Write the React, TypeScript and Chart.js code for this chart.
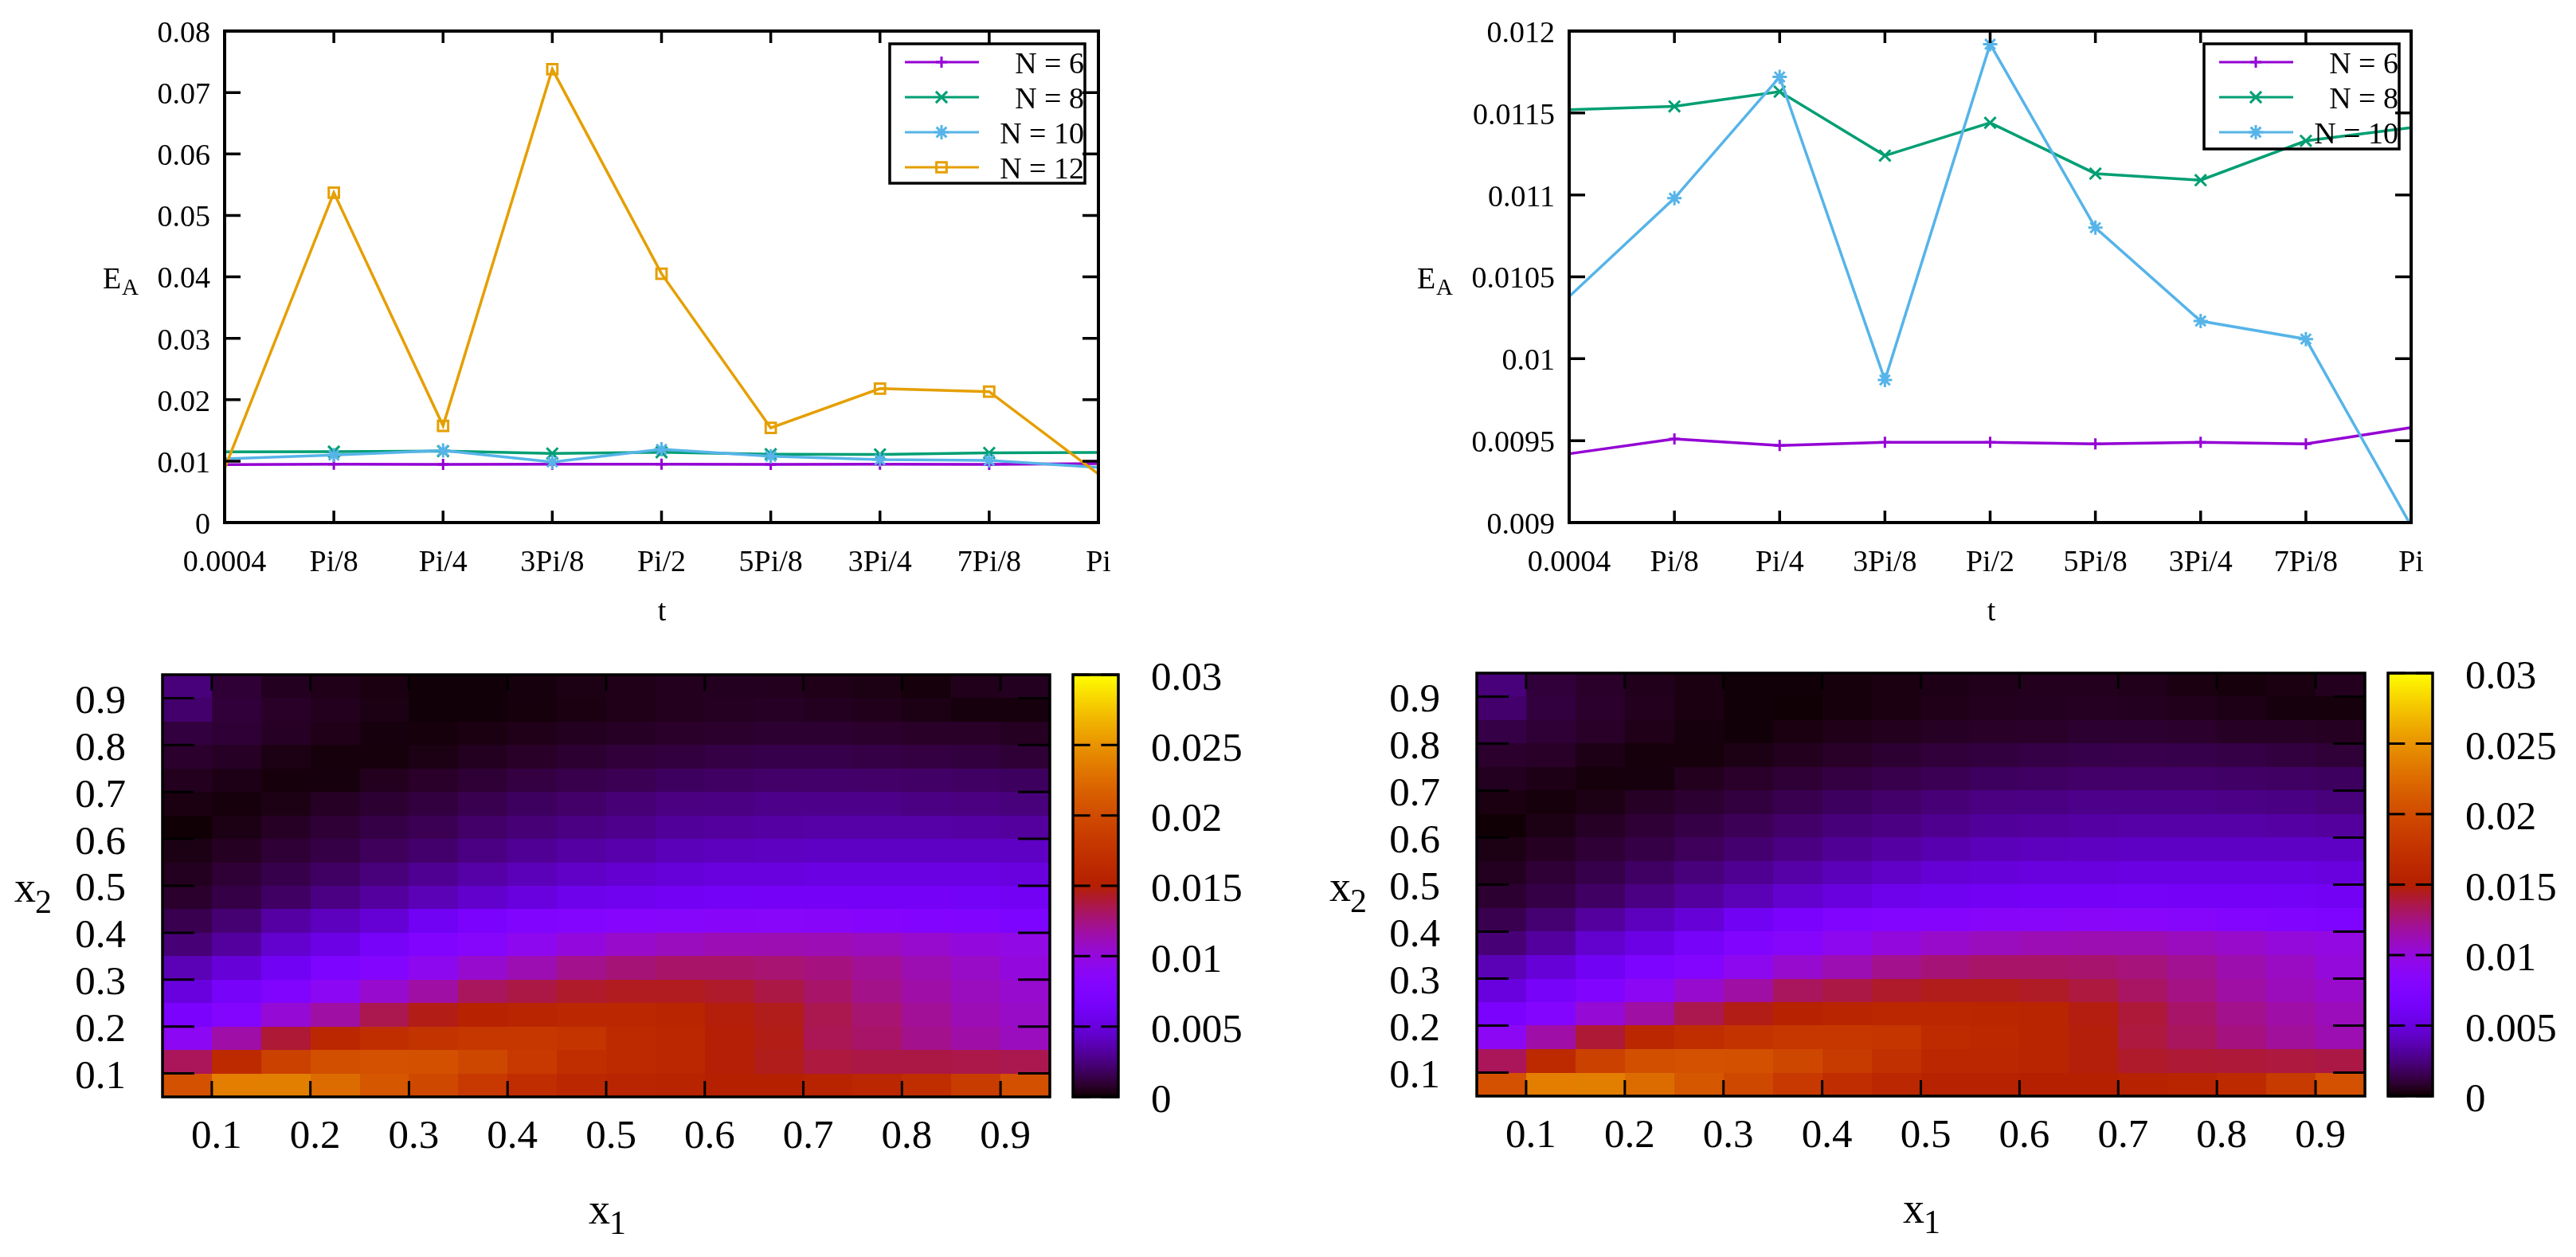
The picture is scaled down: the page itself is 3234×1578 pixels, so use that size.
import React, { useEffect, useRef } from "react";
import { Chart, registerables } from "chart.js";
import { drawPoint } from "chart.js/helpers";

Chart.register(...registerables);

const FONT = "Liberation Serif";

const tLabels = ["0.0004", "Pi/8", "Pi/4", "3Pi/8", "Pi/2", "5Pi/8", "3Pi/4", "7Pi/8", "Pi"];

const leftYTicks = [0, 0.01, 0.02, 0.03, 0.04, 0.05, 0.06, 0.07, 0.08];
const rightYTicks = [0.009, 0.0095, 0.01, 0.0105, 0.011, 0.0115, 0.012];

const n6 = [0.00942, 0.00951, 0.00947, 0.00949, 0.00949, 0.00948, 0.00949, 0.00948, 0.00958];
const n8 = [0.01152, 0.01154, 0.01163, 0.01124, 0.01144, 0.01113, 0.01109, 0.01133, 0.01141];
const n10 = [0.01038, 0.01098, 0.01172, 0.00987, 0.01192, 0.0108, 0.01023, 0.01012, 0.00898];
const n12 = [0.0088, 0.0537, 0.01575, 0.0738, 0.0405, 0.0154, 0.0218, 0.0213, 0.0079];

const heatXTicks = [0.1, 0.2, 0.3, 0.4, 0.5, 0.6, 0.7, 0.8, 0.9];
const heatYTicks = [0.1, 0.2, 0.3, 0.4, 0.5, 0.6, 0.7, 0.8, 0.9];
const barTicks = [0, 0.005, 0.01, 0.015, 0.02, 0.025, 0.03];

const HEAT_UNIT = 0.001;
const CELL = 0.05;
const GRID_START = 0.05;

// rows run from x2 = 0.90..0.95 (top) to x2 = 0.05..0.10 (bottom), values in HEAT_UNIT
const heatLeft = [
  [2.4, 1.0, 0.6, 0.45, 0.3, 0.15, 0.15, 0.25, 0.35, 0.45, 0.55, 0.6, 0.55, 0.45, 0.35, 0.2, 0.5, 0.6],
  [2.1, 1.1, 0.75, 0.55, 0.35, 0.15, 0.15, 0.2, 0.3, 0.45, 0.55, 0.65, 0.7, 0.6, 0.5, 0.35, 0.25, 0.25],
  [1.2, 1.0, 0.7, 0.45, 0.25, 0.2, 0.3, 0.45, 0.6, 0.7, 0.8, 0.85, 0.95, 0.95, 0.85, 0.75, 0.75, 0.65],
  [0.85, 0.7, 0.35, 0.2, 0.2, 0.35, 0.6, 0.75, 0.95, 1.1, 1.2, 1.3, 1.4, 1.4, 1.3, 1.25, 1.2, 1.0],
  [0.55, 0.4, 0.2, 0.25, 0.55, 0.8, 1.0, 1.25, 1.45, 1.6, 1.8, 1.9, 2.0, 2.05, 2.0, 1.95, 1.9, 1.8],
  [0.3, 0.2, 0.35, 0.7, 0.95, 1.2, 1.5, 1.8, 2.0, 2.3, 2.5, 2.6, 2.7, 2.7, 2.7, 2.6, 2.5, 2.4],
  [0.12, 0.35, 0.7, 1.0, 1.3, 1.6, 2.0, 2.3, 2.6, 2.8, 3.1, 3.2, 3.3, 3.4, 3.4, 3.4, 3.3, 3.2],
  [0.35, 0.65, 1.0, 1.35, 1.75, 2.1, 2.6, 3.0, 3.3, 3.5, 3.9, 4.0, 4.1, 4.2, 4.2, 4.2, 4.2, 4.2],
  [0.6, 1.0, 1.4, 1.9, 2.4, 2.9, 3.4, 3.9, 4.3, 4.6, 4.9, 5.0, 5.1, 5.2, 5.2, 5.2, 5.2, 5.1],
  [0.85, 1.3, 1.9, 2.6, 3.2, 3.8, 4.4, 5.0, 5.6, 5.8, 6.1, 6.2, 6.3, 6.3, 6.3, 6.3, 6.2, 6.1],
  [1.5, 2.2, 3.3, 4.0, 4.7, 6.0, 7.0, 7.7, 8.0, 8.1, 8.3, 8.4, 8.5, 8.4, 8.2, 7.8, 7.5, 7.2],
  [2.3, 3.2, 4.5, 5.3, 6.5, 7.5, 8.3, 9.2, 10.0, 10.6, 11.0, 11.2, 11.3, 11.2, 11.0, 10.5, 10.0, 9.7],
  [3.8, 4.8, 6.0, 7.2, 8.0, 9.2, 10.5, 11.3, 12.2, 12.7, 13.0, 13.0, 12.8, 12.5, 12.0, 11.3, 10.7, 10.0],
  [5.0, 6.5, 7.7, 9.0, 10.5, 11.7, 13.2, 13.7, 14.2, 14.4, 14.4, 14.2, 13.7, 13.0, 12.3, 11.6, 11.0, 10.5],
  [7.0, 8.0, 10.3, 11.7, 13.5, 14.6, 15.5, 15.8, 16.0, 16.0, 15.8, 14.8, 14.5, 13.5, 12.8, 12.0, 11.2, 10.7],
  [9.0, 11.6, 14.0, 16.0, 17.0, 17.6, 18.0, 18.0, 17.7, 16.5, 16.0, 14.9, 14.6, 13.4, 13.0, 12.2, 11.6, 11.0],
  [13.3, 16.4, 19.0, 20.3, 20.5, 20.4, 19.6, 18.2, 17.0, 16.5, 16.0, 14.9, 14.5, 13.8, 13.7, 13.7, 13.6, 13.5],
  [20.5, 23.7, 23.8, 22.5, 21.0, 19.7, 18.2, 16.8, 16.2, 15.8, 15.6, 15.0, 15.0, 15.6, 16.0, 17.0, 18.5, 20.4],
];

const heatRight = [
  [2.4, 1.1, 0.8, 0.5, 0.3, 0.15, 0.15, 0.2, 0.3, 0.4, 0.5, 0.55, 0.55, 0.5, 0.3, 0.2, 0.3, 0.55],
  [2.1, 1.2, 0.85, 0.55, 0.3, 0.15, 0.12, 0.2, 0.3, 0.45, 0.55, 0.6, 0.65, 0.6, 0.5, 0.4, 0.25, 0.2],
  [1.3, 1.0, 0.75, 0.45, 0.25, 0.15, 0.3, 0.45, 0.55, 0.7, 0.75, 0.8, 0.9, 0.95, 0.85, 0.7, 0.7, 0.65],
  [0.85, 0.75, 0.4, 0.2, 0.2, 0.35, 0.55, 0.75, 0.95, 1.1, 1.2, 1.3, 1.4, 1.45, 1.4, 1.3, 1.2, 1.05],
  [0.6, 0.4, 0.2, 0.25, 0.55, 0.8, 1.0, 1.25, 1.45, 1.6, 1.8, 1.9, 2.0, 2.05, 2.05, 1.95, 1.9, 1.8],
  [0.3, 0.2, 0.35, 0.7, 0.95, 1.2, 1.5, 1.8, 2.05, 2.3, 2.5, 2.6, 2.7, 2.7, 2.7, 2.65, 2.55, 2.4],
  [0.12, 0.35, 0.7, 1.0, 1.3, 1.65, 2.0, 2.35, 2.6, 2.85, 3.1, 3.2, 3.3, 3.4, 3.4, 3.4, 3.3, 3.2],
  [0.35, 0.65, 1.0, 1.35, 1.75, 2.15, 2.6, 3.0, 3.3, 3.6, 3.9, 4.0, 4.1, 4.2, 4.2, 4.2, 4.2, 4.2],
  [0.6, 1.0, 1.4, 1.9, 2.4, 2.9, 3.4, 3.9, 4.3, 4.7, 4.9, 5.0, 5.1, 5.2, 5.2, 5.2, 5.2, 5.1],
  [0.9, 1.3, 1.9, 2.6, 3.2, 3.8, 4.5, 5.0, 5.6, 5.9, 6.1, 6.3, 6.3, 6.4, 6.3, 6.3, 6.2, 6.1],
  [1.5, 2.2, 3.2, 4.0, 4.8, 6.0, 7.0, 7.7, 8.0, 8.2, 8.4, 8.5, 8.6, 8.5, 8.3, 7.9, 7.6, 7.3],
  [2.3, 3.2, 4.5, 5.3, 6.5, 7.5, 8.3, 9.2, 10.0, 10.6, 11.0, 11.2, 11.3, 11.3, 11.0, 10.6, 10.1, 9.8],
  [3.8, 4.8, 6.0, 7.2, 8.0, 9.2, 10.5, 11.3, 12.2, 12.7, 13.0, 13.0, 12.9, 12.6, 12.1, 11.4, 10.8, 10.1],
  [5.0, 6.5, 7.7, 9.0, 10.5, 11.7, 13.2, 13.7, 14.2, 14.5, 14.5, 14.3, 13.8, 13.1, 12.4, 11.7, 11.1, 10.6],
  [7.0, 8.0, 10.3, 11.7, 13.5, 14.6, 15.5, 15.8, 16.0, 16.1, 15.9, 15.7, 14.7, 13.9, 13.0, 12.2, 11.6, 11.1],
  [9.0, 11.6, 14.0, 16.0, 17.0, 17.6, 18.0, 18.0, 17.8, 16.6, 16.3, 15.8, 14.8, 13.8, 13.2, 12.5, 11.9, 11.3],
  [13.3, 16.4, 19.0, 20.3, 20.5, 20.4, 19.6, 18.4, 17.2, 16.2, 16.2, 15.8, 14.8, 14.2, 14.0, 13.9, 13.8, 13.7],
  [20.5, 23.7, 23.8, 22.5, 21.0, 19.7, 18.2, 16.8, 16.2, 15.5, 15.5, 15.1, 15.1, 15.5, 15.7, 16.5, 18.3, 20.5],
];

const COLOR_MAX = 0.03;
const seriesStyle = [
  { label: "N = 6", color: "#9400D3", point: "cross", radius: 7 },
  { label: "N = 8", color: "#009E73", point: "crossRot", radius: 10 },
  { label: "N = 10", color: "#56B4E9", point: "star", radius: 9 },
  { label: "N = 12", color: "#E69F00", point: "rect", radius: 9 },
];

function palette(value: number) {
  const g = Math.max(0, Math.min(1, value / COLOR_MAX));
  const r = Math.sqrt(g);
  const gr = g * g * g;
  const b = Math.max(0, Math.sin(2 * Math.PI * g));
  return `rgb(${Math.round(r * 255)},${Math.round(gr * 255)},${Math.round(b * 255)})`;
}

function framePlugin(xLen: number, yLen: number, width: number) {
  return {
    id: "frame",
    afterDatasetsDraw(chart: any) {
      const { ctx, chartArea: a, scales } = chart;
      ctx.save();
      ctx.strokeStyle = "#000";
      ctx.lineWidth = width;
      ctx.beginPath();
      scales.x.ticks.forEach((_: any, i: number) => {
        const px = scales.x.getPixelForTick(i);
        ctx.moveTo(px, a.top);
        ctx.lineTo(px, a.top + xLen);
        ctx.moveTo(px, a.bottom);
        ctx.lineTo(px, a.bottom - xLen);
      });
      scales.y.ticks.forEach((_: any, i: number) => {
        const py = scales.y.getPixelForTick(i);
        ctx.moveTo(a.left, py);
        ctx.lineTo(a.left + yLen, py);
        ctx.moveTo(a.right, py);
        ctx.lineTo(a.right - yLen, py);
      });
      ctx.stroke();
      ctx.lineWidth = width + 0.5;
      ctx.strokeRect(a.left, a.top, a.right - a.left, a.bottom - a.top);
      ctx.restore();
    },
  };
}

type Piece = { text: string; x: number; y: number; size: number; align?: string };

function textPlugin(pieces: Piece[]) {
  return {
    id: "axisText",
    afterDraw(chart: any) {
      const { ctx } = chart;
      ctx.save();
      ctx.fillStyle = "#000";
      ctx.textBaseline = "alphabetic";
      pieces.forEach((p) => {
        ctx.font = `${p.size}px "${FONT}"`;
        ctx.textAlign = p.align || "left";
        ctx.fillText(p.text, p.x, p.y);
      });
      ctx.restore();
    },
  };
}

function legendPlugin(box: { x: number; y: number; w: number; h: number }) {
  return {
    id: "keyBox",
    afterDraw(chart: any) {
      const { ctx } = chart;
      ctx.save();
      chart.data.datasets.forEach((ds: any, i: number) => {
        const y = box.y + 23 + i * 44;
        ctx.strokeStyle = ds.borderColor;
        ctx.lineWidth = 3;
        ctx.beginPath();
        ctx.moveTo(box.x + 19, y);
        ctx.lineTo(box.x + 112, y);
        ctx.stroke();
        const style = seriesStyle[i];
        ctx.lineWidth = 3;
        ctx.fillStyle = "rgba(0,0,0,0)";
        drawPoint(ctx, { pointStyle: style.point, radius: style.radius, rotation: 0, borderWidth: 3 }, box.x + 65, y);
        ctx.fillStyle = "#000";
        ctx.font = `38px "${FONT}"`;
        ctx.textAlign = "right";
        ctx.textBaseline = "alphabetic";
        ctx.fillText(ds.label, box.x + box.w - 1, y + 14);
      });
      ctx.strokeStyle = "#000";
      ctx.lineWidth = 3.5;
      ctx.strokeRect(box.x, box.y, box.w, box.h);
      ctx.restore();
    },
  };
}

function heatCellsPlugin() {
  return {
    id: "heatCells",
    beforeDatasetsDraw(chart: any) {
      const { ctx, scales } = chart;
      ctx.save();
      chart.data.datasets[0].data.forEach((d: any) => {
        const x0 = Math.round(scales.x.getPixelForValue(d.x));
        const x1 = Math.round(scales.x.getPixelForValue(d.x + CELL));
        const y0 = Math.round(scales.y.getPixelForValue(d.y + CELL));
        const y1 = Math.round(scales.y.getPixelForValue(d.y));
        ctx.fillStyle = palette(d.v);
        ctx.fillRect(x0, y0, x1 - x0, y1 - y0);
      });
      ctx.restore();
    },
  };
}

function colorBarPlugin() {
  return {
    id: "colorBar",
    afterDatasetsDraw(chart: any) {
      const { ctx, chartArea: a, scales } = chart;
      const y = scales.y;
      ctx.save();
      for (let py = Math.floor(a.top); py < a.bottom; py++) {
        ctx.fillStyle = palette(y.getValueForPixel(py + 0.5));
        ctx.fillRect(a.left, py, a.right - a.left, 1);
      }
      const w = a.right - a.left;
      ctx.strokeStyle = "#000";
      ctx.lineWidth = 3;
      ctx.beginPath();
      y.ticks.forEach((_: any, i: number) => {
        const py = y.getPixelForTick(i);
        ctx.moveTo(a.left, py);
        ctx.lineTo(a.left + w * 0.38, py);
        ctx.moveTo(a.right, py);
        ctx.lineTo(a.right - w * 0.38, py);
      });
      ctx.stroke();
      ctx.lineWidth = 3.5;
      ctx.strokeRect(a.left, a.top, w, a.bottom - a.top);
      ctx.restore();
    },
  };
}

type Box = { x: number; y: number; w: number; h: number };
type Plot = { l: number; t: number; r: number; b: number };

function setTicks(values: number[]) {
  return (s: any) => {
    s.ticks = values.map((value) => ({ value }));
  };
}

function fixY(width: number) {
  return (s: any) => {
    s.width = width;
    s.paddingTop = 0;
    s.paddingBottom = 0;
  };
}

function fixX(height: number) {
  return (s: any) => {
    s.height = height;
    s.paddingLeft = 0;
    s.paddingRight = 0;
  };
}

const noGrid = { display: false, drawTicks: false };
const noBorder = { display: false };

function lineChart(canvas: HTMLCanvasElement, box: Box, p: Plot, series: number[][], yTicks: number[], pieces: Piece[], key: any) {
  const plugins = [framePlugin(15, 20, 3.5), legendPlugin(key), textPlugin(pieces)];
  return new Chart(canvas, {
    type: "line",
    data: {
      labels: tLabels,
      datasets: series.map((values, i) => ({
        label: seriesStyle[i].label,
        data: values,
        borderColor: seriesStyle[i].color,
        borderWidth: 3.5,
        tension: 0,
        order: 10 - i,
        pointStyle: seriesStyle[i].point,
        pointBorderColor: seriesStyle[i].color,
        pointBackgroundColor: "rgba(0,0,0,0)",
        pointBorderWidth: 3,
        pointRadius: (c: any) => (c.dataIndex === 0 || c.dataIndex === tLabels.length - 1 ? 0 : seriesStyle[i].radius),
      })),
    },
    options: {
      animation: false,
      responsive: false,
      devicePixelRatio: 1,
      layout: { padding: { left: 0, top: p.t - box.y, right: box.x + box.w - p.r, bottom: 0 } },
      plugins: { legend: { display: false }, tooltip: { enabled: false } },
      scales: {
        x: {
          type: "category",
          offset: false,
          grid: noGrid,
          border: noBorder,
          ticks: { font: { family: FONT, size: 38 }, color: "#000", autoSkip: false, maxRotation: 0, minRotation: 0, padding: 28 },
          afterFit: fixX(box.y + box.h - p.b),
        },
        y: {
          min: yTicks[0],
          max: yTicks[yTicks.length - 1],
          grid: noGrid,
          border: noBorder,
          afterBuildTicks: setTicks(yTicks),
          ticks: { font: { family: FONT, size: 38 }, color: "#000", padding: 18, labelOffset: 4, callback: (v: any) => String(v) },
          afterFit: fixY(p.l - box.x),
        },
      },
    } as any,
    plugins,
  } as any);
}

function heatChart(canvas: HTMLCanvasElement, box: Box, p: Plot, rows: number[][], pieces: Piece[]) {
  const cells: any[] = [];
  rows.forEach((row, r) => {
    row.forEach((v, c) => {
      cells.push({ x: GRID_START + c * CELL, y: GRID_START + (rows.length - 1 - r) * CELL, v: v * HEAT_UNIT });
    });
  });
  return new Chart(canvas, {
    type: "scatter",
    data: { datasets: [{ data: cells, pointRadius: 0, showLine: false }] },
    options: {
      animation: false,
      responsive: false,
      devicePixelRatio: 1,
      layout: { padding: { left: 0, top: p.t - box.y, right: box.x + box.w - p.r, bottom: 0 } },
      plugins: { legend: { display: false }, tooltip: { enabled: false } },
      scales: {
        x: {
          type: "linear",
          min: 0.05,
          max: 0.95,
          grid: noGrid,
          border: noBorder,
          afterBuildTicks: setTicks(heatXTicks),
          ticks: { font: { family: FONT, size: 51 }, color: "#000", padding: 20, labelOffset: 6, maxRotation: 0, minRotation: 0, autoSkip: false, callback: (v: any) => Number(v).toFixed(1) },
          afterFit: fixX(box.y + box.h - p.b),
        },
        y: {
          type: "linear",
          min: 0.05,
          max: 0.95,
          grid: noGrid,
          border: noBorder,
          afterBuildTicks: setTicks(heatYTicks),
          ticks: { font: { family: FONT, size: 51 }, color: "#000", padding: 46, labelOffset: 5, autoSkip: false, callback: (v: any) => Number(v).toFixed(1) },
          afterFit: fixY(p.l - box.x),
        },
      },
    } as any,
    plugins: [heatCellsPlugin(), framePlugin(20, 40, 3), textPlugin(pieces)],
  } as any);
}

function barChart(canvas: HTMLCanvasElement, box: Box, p: Plot) {
  return new Chart(canvas, {
    type: "scatter",
    data: { datasets: [{ data: [], pointRadius: 0 }] },
    options: {
      animation: false,
      responsive: false,
      devicePixelRatio: 1,
      layout: { padding: { left: p.l - box.x, top: p.t - box.y, right: 0, bottom: box.y + box.h - p.b } },
      plugins: { legend: { display: false }, tooltip: { enabled: false } },
      scales: {
        x: { type: "linear", display: false },
        y: {
          type: "linear",
          position: "right",
          min: 0,
          max: COLOR_MAX,
          grid: noGrid,
          border: noBorder,
          afterBuildTicks: setTicks(barTicks),
          ticks: { font: { family: FONT, size: 51 }, color: "#000", padding: 41, labelOffset: 6, autoSkip: false, callback: (v: any) => String(v) },
          afterFit: fixY(box.x + box.w - p.r),
        },
      },
    } as any,
    plugins: [colorBarPlugin()],
  } as any);
}

const boxes: Record<string, Box> = {
  lineL: { x: 0, y: 0, w: 1500, h: 815 },
  lineR: { x: 1700, y: 0, w: 1534, h: 815 },
  heatL: { x: 0, y: 820, w: 1335, h: 758 },
  barL: { x: 1335, y: 820, w: 300, h: 758 },
  heatR: { x: 1650, y: 820, w: 1335, h: 758 },
  barR: { x: 2985, y: 820, w: 249, h: 758 },
};

function Panel({ box, make }: { box: Box; make: (c: HTMLCanvasElement) => any }) {
  const ref = useRef<HTMLCanvasElement | null>(null);
  useEffect(() => {
    const chart = make(ref.current as HTMLCanvasElement);
    return () => chart.destroy();
  }, []);
  return (
    <canvas
      ref={ref}
      width={box.w}
      height={box.h}
      style={{ position: "absolute", left: box.x, top: box.y, width: box.w, height: box.h, display: "block" }}
    />
  );
}

export default function App() {
  useEffect(() => {
    document.body.style.margin = "0";
    document.body.style.background = "#fff";
  }, []);
  const lb = boxes.lineL;
  const rb = boxes.lineR;
  const hl = boxes.heatL;
  const hr = boxes.heatR;
  return (
    <div style={{ position: "absolute", left: 0, top: 0, width: 3234, height: 1578, background: "#fff", overflow: "hidden" }}>
      <Panel
        box={lb}
        make={(c) =>
          lineChart(c, lb, { l: 282, t: 39, r: 1379, b: 656 }, [n6, n8, n10, n12], leftYTicks, [
            { text: "E", x: 129, y: 362, size: 38 },
            { text: "A", x: 153, y: 370, size: 29 },
            { text: "t", x: 831, y: 779, size: 38, align: "center" },
          ], { x: 1117, y: 55, w: 245, h: 175 })
        }
      />
      <Panel
        box={rb}
        make={(c) =>
          lineChart(c, rb, { l: 1970, t: 39, r: 3027, b: 656 }, [n6, n8, n10], rightYTicks, [
            { text: "E", x: 1779 - rb.x, y: 362, size: 38 },
            { text: "A", x: 1803 - rb.x, y: 370, size: 29 },
            { text: "t", x: 2500 - rb.x, y: 779, size: 38, align: "center" },
          ], { x: 2767 - rb.x, y: 55, w: 245, h: 132 })
        }
      />
      <Panel
        box={hl}
        make={(c) =>
          heatChart(c, hl, { l: 204, t: 847, r: 1318, b: 1377 }, heatLeft, [
            { text: "x", x: 18, y: 1132 - hl.y, size: 54 },
            { text: "2", x: 44, y: 1146 - hl.y, size: 42 },
            { text: "x", x: 739, y: 1536 - hl.y, size: 54 },
            { text: "1", x: 765, y: 1549 - hl.y, size: 42 },
          ])
        }
      />
      <Panel box={boxes.barL} make={(c) => barChart(c, boxes.barL, { l: 1347, t: 847, r: 1404, b: 1377 })} />
      <Panel
        box={hr}
        make={(c) =>
          heatChart(c, hr, { l: 1854, t: 845, r: 2969, b: 1376 }, heatRight, [
            { text: "x", x: 1669 - hr.x, y: 1131 - hr.y, size: 54 },
            { text: "2", x: 1695 - hr.x, y: 1145 - hr.y, size: 42 },
            { text: "x", x: 2389 - hr.x, y: 1535 - hr.y, size: 54 },
            { text: "1", x: 2415 - hr.x, y: 1548 - hr.y, size: 42 },
          ])
        }
      />
      <Panel box={boxes.barR} make={(c) => barChart(c, boxes.barR, { l: 2998, t: 845, r: 3054, b: 1376 })} />
    </div>
  );
}
